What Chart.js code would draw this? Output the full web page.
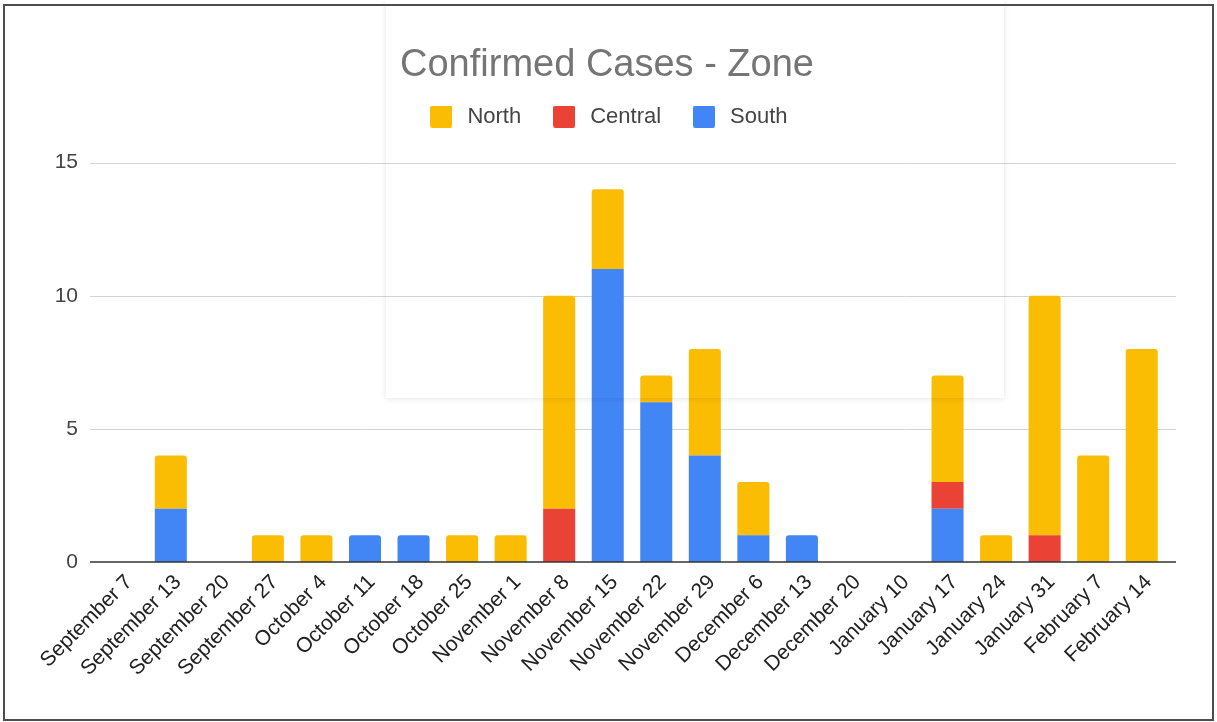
<!DOCTYPE html>
<html>
<head>
<meta charset="utf-8">
<script src="https://cdn.jsdelivr.net/npm/chart.js@4.4.0/dist/chart.umd.min.js"></script>
<style>
  body { margin: 0; background: #fff; }
  #wrap { position: absolute; left: 0; top: 0; width: 1217px; height: 722px; }
  #frame { position: absolute; left: 3px; top: 4px; width: 1207px; height: 713px; border: 2px solid #4d4d4d; pointer-events: none; }
</style>
</head>
<body>
<div id="wrap"><canvas id="zoneChart"></canvas></div>
<div id="frame"></div>
<script>
const weeks = [
  "September 7", "September 13", "September 20", "September 27",
  "October 4", "October 11", "October 18", "October 25",
  "November 1", "November 8", "November 15", "November 22", "November 29",
  "December 6", "December 13", "December 20",
  "January 10", "January 17", "January 24", "January 31",
  "February 7", "February 14"
];
const north   = [0, 2, 0, 1, 1, 0, 0, 1, 1, 8, 3, 1, 4, 2, 0, 0, 0, 4, 1, 9, 4, 8];
const central = [0, 0, 0, 0, 0, 0, 0, 0, 0, 2, 0, 0, 0, 0, 0, 0, 0, 1, 0, 1, 0, 0];
const south   = [0, 2, 0, 0, 0, 1, 1, 0, 0, 0, 11, 6, 4, 1, 1, 0, 0, 2, 0, 0, 0, 0];
const yTicks = [0, 5, 10, 15];

const FONT = "'Liberation Sans', Arial, sans-serif";

// little square used as legend marker (gives a wider gap before the text)
function swatch(color) {
  const c = document.createElement("canvas");
  c.width = 22;
  c.height = 22;
  const g = c.getContext("2d");
  g.fillStyle = color;
  g.beginPath();
  g.roundRect(0, 0, 22, 22, 2);
  g.fill();
  return c;
}

// gridlines run a little wider than the bars, like the sheets chart
const gridPlugin = {
  id: "wideGrid",
  beforeDatasetsDraw(chart) {
    const { ctx, chartArea, scales } = chart;
    ctx.save();
    ctx.strokeStyle = "#d3d3d3";
    ctx.lineWidth = 1;
    yTicks.forEach(v => {
      if (v === 0) return;
      const y = Math.round(scales.y.getPixelForValue(v)) + 0.5;
      ctx.beginPath();
      ctx.moveTo(chartArea.left - 8, y);
      ctx.lineTo(chartArea.right + 10, y);
      ctx.stroke();
    });
    ctx.restore();
  },
  afterDatasetsDraw(chart) {
    const { ctx, chartArea, scales } = chart;
    const y = Math.round(scales.y.getPixelForValue(0));
    ctx.save();
    ctx.strokeStyle = "#333";
    ctx.lineWidth = 1.5;
    ctx.beginPath();
    ctx.moveTo(chartArea.left - 8, y);
    ctx.lineTo(chartArea.right + 10, y);
    ctx.stroke();
    ctx.restore();
  }
};

// extra room between legend and plot
const legendGap = {
  id: "legendGap",
  afterInit(chart) {
    const lg = chart.legend;
    const fit = lg.fit.bind(lg);
    lg.fit = function () { fit(); this.height += 25; };
  }
};

// faint floating panel seen behind the title
const panelPlugin = {
  id: "panel",
  afterDraw(chart) {
    const { ctx, width, height } = chart;
    const x = 386, y = 0, w = 618, h = 398;
    ctx.save();
    ctx.beginPath();
    ctx.rect(0, 0, width, height);
    ctx.rect(x, y, w, h);
    ctx.clip("evenodd");
    ctx.shadowColor = "rgba(0,0,0,0.10)";
    ctx.shadowBlur = 6;
    ctx.shadowOffsetY = 1;
    ctx.fillStyle = "#fff";
    ctx.fillRect(x, y, w, h);
    ctx.restore();
  }
};

new Chart(document.getElementById("zoneChart"), {
  type: "bar",
  data: {
    labels: weeks,
    datasets: [
      { label: "South", data: south, backgroundColor: "#4285F4" },
      { label: "Central", data: central, backgroundColor: "#EA4335" },
      { label: "North", data: north, backgroundColor: "#FBBC04" }
    ]
  },
  options: {
    responsive: true,
    maintainAspectRatio: false,
    animation: false,
    events: [],
    layout: { padding: { left: 48, right: 51, top: 0, bottom: 10 } },
    datasets: {
      bar: {
        categoryPercentage: 1,
        barPercentage: 0.66,
        borderRadius: 3,
        borderWidth: 0
      }
    },
    plugins: {
      title: {
        display: true,
        text: "Confirmed Cases - Zone",
        color: "#757575",
        font: { family: FONT, size: 38, weight: "normal" },
        padding: { top: 43, bottom: -11 }
      },
      legend: {
        position: "top",
        reverse: true,
        labels: {
          color: "#444",
          font: { family: FONT, size: 22 },
          usePointStyle: true,
          pointStyleWidth: 30,
          boxHeight: 22,
          padding: 28,
          generateLabels(chart) {
            const items = Chart.defaults.plugins.legend.labels.generateLabels(chart);
            items.forEach(it => { it.pointStyle = swatch(it.fillStyle); });
            return items;
          }
        }
      },
      tooltip: { enabled: false }
    },
    scales: {
      x: {
        stacked: true,
        grid: { display: false, drawTicks: false },
        border: { display: false },
        ticks: {
          color: "#222",
          font: { family: FONT, size: 21 },
          minRotation: 45,
          maxRotation: 45,
          autoSkip: false,
          padding: 8,
          labelOffset: 7
        },
        afterFit(scale) { scale.height = 150; }
      },
      y: {
        stacked: true,
        min: 0,
        max: 15,
        grid: { display: false, drawTicks: false },
        border: { display: false },
        ticks: {
          stepSize: 5,
          color: "#444",
          font: { family: FONT, size: 21 },
          padding: 20
        },
        afterFit(scale) { scale.width = 50; }
      }
    }
  },
  plugins: [gridPlugin, legendGap, panelPlugin]
});
</script>
</body>
</html>
